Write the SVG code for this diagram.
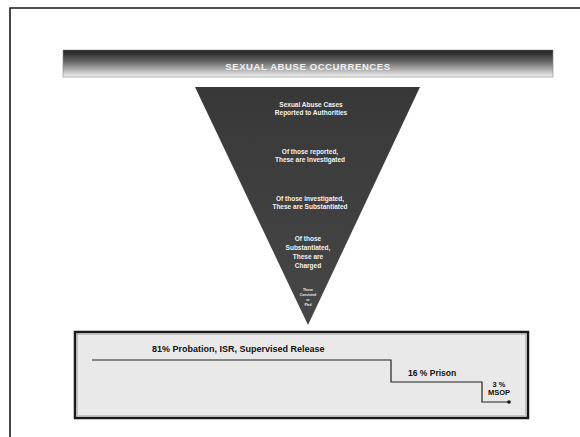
<svg xmlns="http://www.w3.org/2000/svg" width="580" height="437" viewBox="0 0 580 437">
<style>
.frame{fill:none;stroke:#1a1a1a;stroke-width:1.6}
.tri-t{font-family:"Liberation Sans",Arial,sans-serif;font-weight:bold;fill:#f2f2f2;text-anchor:middle;font-size:6.5px}
.tiny{font-family:"Liberation Sans",Arial,sans-serif;font-weight:bold;fill:#eee;text-anchor:middle;font-size:3.4px}
.lbl{font-family:"Liberation Sans",Arial,sans-serif;font-weight:bold;fill:#111;font-size:8.5px}
.sm{font-family:"Liberation Sans",Arial,sans-serif;font-weight:bold;fill:#111;font-size:7.5px;text-anchor:middle}
.step{fill:none;stroke:#222;stroke-width:1.2}
</style>
<defs>
<linearGradient id="bar" x1="0" y1="0" x2="0" y2="1">
<stop offset="0" stop-color="#1c1c1c"/>
<stop offset="0.45" stop-color="#6a6a6a"/>
<stop offset="1" stop-color="#f4f4f4"/>
</linearGradient>
<linearGradient id="tri" x1="0" y1="0" x2="0" y2="1">
<stop offset="0" stop-color="#383838"/>
<stop offset="1" stop-color="#474747"/>
</linearGradient>
</defs>
<rect width="580" height="437" fill="#fff"/>
<path class="frame" d="M10,437 V8 H580"/>
<g id="title">
<rect x="63" y="50" width="490" height="27" fill="url(#bar)" stroke="#888" stroke-width="0.6"/>
<text x="308" y="70" font-family="'Liberation Sans',Arial,sans-serif" font-size="9.5" font-weight="bold" fill="#f0f0f0" text-anchor="middle" letter-spacing="0.6">SEXUAL ABUSE OCCURRENCES</text>
</g>
<g id="funnel">
<polygon points="195,87 420,87 308,325" fill="url(#tri)"/>
<text class="tri-t" x="311" y="107">Sexual Abuse Cases</text>
<text class="tri-t" x="311" y="115">Reported to Authorities</text>
<text class="tri-t" x="310" y="154">Of those reported,</text>
<text class="tri-t" x="310" y="162">These are Investigated</text>
<text class="tri-t" x="310" y="201">Of those investigated,</text>
<text class="tri-t" x="310" y="209">These are Substantiated</text>
<text class="tri-t" x="308" y="241">Of those</text>
<text class="tri-t" x="308" y="250">Substantiated,</text>
<text class="tri-t" x="308" y="259">These are</text>
<text class="tri-t" x="308" y="268">Charged</text>
<text class="tiny" x="308" y="291">Those</text>
<text class="tiny" x="308" y="296">Convicted</text>
<text class="tiny" x="308" y="301">or</text>
<text class="tiny" x="308" y="306">Pled</text>
</g>
<g id="outcomes">
<rect x="75" y="332" width="453" height="86" fill="#e9e9e9" stroke="#1a1a1a" stroke-width="2.5"/>
<rect x="77.5" y="334.5" width="448" height="81" fill="none" stroke="#aaa" stroke-width="0.6"/>
</g>
<g id="connectors">
<path class="step" d="M92,360 H391 V382 H482 V402 H509"/>
<circle cx="509" cy="402" r="1.8" fill="#111"/>
</g>
<g id="labels">
<text class="lbl" x="152" y="352" style="font-size:9px">81% Probation, ISR, Supervised Release</text>
<text class="lbl" x="408" y="376">16 % Prison</text>
<text class="sm" x="499" y="387">3 %</text>
<text class="sm" x="499" y="395">MSOP</text>
</g>
</svg>
